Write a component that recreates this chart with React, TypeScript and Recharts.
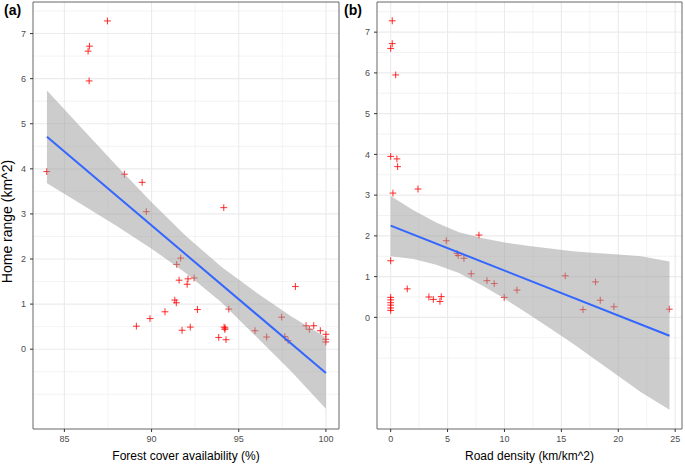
import {
  ComposedChart, XAxis, YAxis, CartesianGrid, Scatter, Area, Line, ReferenceArea,
} from 'recharts';

// (a) forest cover availability (%) vs home range (km^2)
const forestX = [
  83.99, 86.42, 86.36, 86.44, 87.47, 88.44, 89.46, 89.70, 94.14, 91.67,
  91.44, 91.58, 92.09, 92.44, 92.04, 91.33, 91.42, 90.77, 92.63, 94.43,
  89.91, 89.13, 91.75, 92.22, 94.16, 94.20, 94.22, 93.85, 94.27, 95.93,
  96.60, 97.46, 97.64, 97.83, 98.25, 98.86, 99.05, 99.30, 99.68, 100.0,
  99.99, 99.99,
];
const forestY = [
  3.94, 5.95, 6.61, 6.72, 7.28, 3.88, 3.70, 3.05, 3.14, 2.02,
  1.88, 1.53, 1.56, 1.58, 1.44, 1.09, 1.03, 0.83, 0.88, 0.89,
  0.68, 0.51, 0.42, 0.49, 0.49, 0.44, 0.47, 0.26, 0.21, 0.41,
  0.27, 0.71, 0.28, 0.19, 1.39, 0.52, 0.44, 0.52, 0.41, 0.33,
  0.22, 0.16,
];
const forestBandX = [84, 86, 88, 90, 92, 94, 96, 98, 100];
const forestLower = [3.68, 3.21, 2.73, 2.23, 1.68, 1.04, 0.28, -0.49, -1.32];
const forestUpper = [5.74, 4.90, 4.07, 3.26, 2.50, 1.83, 1.26, 0.73, 0.26];
const forestFitX = [84, 100];
const forestFitY = [4.71, -0.53];

// (b) road density (km/km^2) vs home range (km^2)
const roadX = [
  0.14, 0.14, 0.0, 0.44, 0.0, 0.55, 0.61, 0.20, 2.40, 0.0,
  4.89, 7.76, 5.83, 5.94, 6.44, 7.08, 8.46, 9.10, 11.10, 9.98,
  15.34, 18.00, 18.42, 16.90, 19.62, 24.48, 1.46, 3.36, 3.75, 4.33,
  4.45, 0.0, 0.0, 0.0, 0.0, 0.0, 0.0,
];
const roadY = [
  7.28, 6.72, 6.60, 5.95, 3.95, 3.89, 3.70, 3.05, 3.15, 1.39,
  1.88, 2.02, 1.57, 1.52, 1.45, 1.07, 0.90, 0.83, 0.67, 0.49,
  1.02, 0.87, 0.42, 0.19, 0.26, 0.20, 0.70, 0.50, 0.44, 0.39,
  0.51, 0.49, 0.43, 0.36, 0.30, 0.23, 0.17,
];
const roadBandX = [0, 2, 4, 6, 8, 10, 12, 14, 16, 18, 20, 22, 24.5];
const roadLower = [1.50, 1.43, 1.29, 1.09, 0.79, 0.46, 0.10, -0.27, -0.64, -1.04, -1.44, -1.84, -2.27];
const roadUpper = [2.98, 2.63, 2.33, 2.09, 1.95, 1.84, 1.76, 1.69, 1.62, 1.58, 1.54, 1.50, 1.37];
const roadFitX = [0, 24.5];
const roadFitY = [2.25, -0.45];

const yTicks = [0, 1, 2, 3, 4, 5, 6, 7];
const yMinor = [-1, -0.5, 0.5, 1.5, 2.5, 3.5, 4.5, 5.5, 6.5, 7.5];
const forestTicks = [85, 90, 95, 100];
const forestMinor = [87.5, 92.5, 97.5];
const roadTicks = [0, 5, 10, 15, 20, 25];
const roadMinor = [2.5, 7.5, 12.5, 17.5, 22.5];

const FONT = '"Liberation Sans", Arial, Helvetica, sans-serif';

function Cross(props: any) {
  const { cx, cy } = props;
  if (cx == null || cy == null) return null;
  const r = 3.4;
  return (
    <g stroke="#ff0000" strokeOpacity={0.75} strokeWidth={1.1}>
      <line x1={cx - r} y1={cy} x2={cx + r} y2={cy} />
      <line x1={cx} y1={cy - r} x2={cx} y2={cy + r} />
    </g>
  );
}

interface PanelProps {
  tag: string;
  width: number;
  yAxisWidth: number;
  marginRight: number;
  xDomain: [number, number];
  yDomain: [number, number];
  xTicks: number[];
  xMinor: number[];
  xs: number[];
  ys: number[];
  bandX: number[];
  lower: number[];
  upper: number[];
  fitX: number[];
  fitY: number[];
  xTitle: string;
  yTitle?: string;
}

function Panel(p: PanelProps) {
  const points = p.xs.map((x, i) => ({ x, y: p.ys[i] }));
  const band = p.bandX.map((x, i) => ({ x, band: [p.lower[i], p.upper[i]] }));
  const fit = p.fitX.map((x, i) => ({ x, fit: p.fitY[i] }));
  const tickStyle = { fill: '#4d4d4d', fontSize: 9, fontFamily: FONT };

  return (
    <div style={{ position: 'relative', width: p.width, height: 464 }}>
      <span
        style={{
          position: 'absolute', left: 4, top: 2, fontWeight: 'bold', fontSize: 14,
          lineHeight: '16px', fontFamily: FONT, color: '#000',
        }}
      >
        {p.tag}
      </span>
      <ComposedChart
        width={p.width}
        height={464}
        data={band}
        margin={{ top: 2, right: p.marginRight, bottom: 0, left: 0 }}
      >
        <CartesianGrid
          horizontalValues={yMinor}
          verticalValues={p.xMinor}
          stroke="#ebebeb"
          strokeWidth={0.6}
        />
        <CartesianGrid
          horizontalValues={yTicks}
          verticalValues={p.xTicks}
          stroke="#ebebeb"
          strokeWidth={1.1}
        />
        <XAxis
          type="number"
          dataKey="x"
          domain={p.xDomain}
          ticks={p.xTicks}
          interval={0}
          allowDataOverflow
          height={35}
          axisLine={false}
          tickLine={{ stroke: '#333' }}
          tickSize={3}
          tickMargin={4}
          tick={tickStyle}
          label={{
            value: p.xTitle, position: 'insideBottom', offset: 4.5,
            style: { fill: '#000', fontSize: 12, fontFamily: FONT },
          }}
        />
        <YAxis
          type="number"
          dataKey="y"
          domain={p.yDomain}
          ticks={yTicks}
          interval={0}
          allowDataOverflow
          width={p.yAxisWidth}
          axisLine={false}
          tickLine={{ stroke: '#333' }}
          tickSize={3}
          tickMargin={4}
          tick={tickStyle}
          label={p.yTitle ? {
            value: p.yTitle, angle: -90, position: 'center', dx: -9.5, dy: 6,
            style: { fill: '#000', fontSize: 14, fontFamily: FONT },
          } : undefined}
        />
        <Scatter data={points} dataKey="y" shape={<Cross />} isAnimationActive={false} />
        <Area
          type="linear"
          dataKey="band"
          stroke="none"
          fill="#999999"
          fillOpacity={0.5}
          isAnimationActive={false}
          {...({ zIndex: 700 } as any)}
        />
        <Line
          data={fit}
          type="linear"
          dataKey="fit"
          stroke="#3366ff"
          strokeWidth={2}
          dot={false}
          activeDot={false}
          isAnimationActive={false}
          {...({ zIndex: 710 } as any)}
        />
        <ReferenceArea
          x1={p.xDomain[0]}
          x2={p.xDomain[1]}
          y1={p.yDomain[0]}
          y2={p.yDomain[1]}
          fill="none"
          stroke="#666"
          strokeWidth={1}
          ifOverflow="visible"
        />
      </ComposedChart>
    </div>
  );
}

export default function App() {
  return (
    <div
      style={{
        position: 'absolute', left: 0, top: 0, width: 685, height: 464,
        display: 'flex', background: '#fff', fontFamily: FONT,
      }}
    >
      <Panel
        tag="(a)"
        width={340}
        yAxisWidth={33}
        marginRight={1}
        xDomain={[83.2, 100.75]}
        yDomain={[-1.77, 7.7]}
        xTicks={forestTicks}
        xMinor={forestMinor}
        xs={forestX}
        ys={forestY}
        bandX={forestBandX}
        lower={forestLower}
        upper={forestUpper}
        fitX={forestFitX}
        fitY={forestFitY}
        xTitle="Forest cover availability (%)"
        yTitle="Home range (km^2)"
      />
      <Panel
        tag="(b)"
        width={345}
        yAxisWidth={37}
        marginRight={3}
        xDomain={[-1.2, 25.6]}
        yDomain={[-2.74, 7.74]}
        xTicks={roadTicks}
        xMinor={roadMinor}
        xs={roadX}
        ys={roadY}
        bandX={roadBandX}
        lower={roadLower}
        upper={roadUpper}
        fitX={roadFitX}
        fitY={roadFitY}
        xTitle="Road density (km/km^2)"
      />
    </div>
  );
}
